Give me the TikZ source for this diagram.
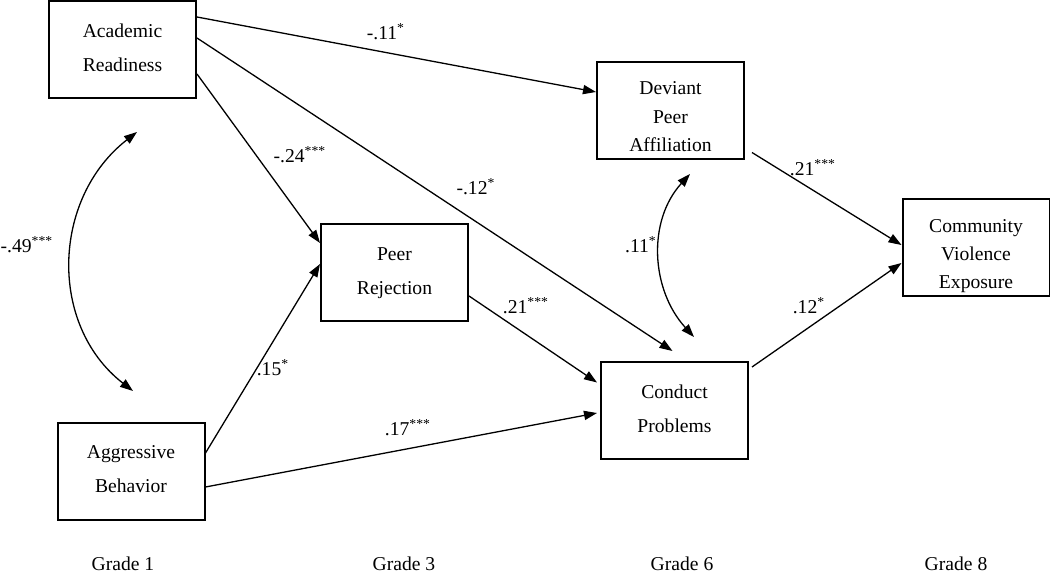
\documentclass[tikz,border=0pt]{standalone}
\usepackage{fontspec}
\setmainfont{Liberation Serif}
\usetikzlibrary{arrows.meta}

\begin{document}
\begin{tikzpicture}[x=0.5pt, y=-0.5pt,
  font=\fontsize{9.8}{12}\selectfont,
  varbox/.style={draw, line width=1pt, minimum width=73.5pt, minimum height=48.5pt, inner sep=0pt, align=center},
  twoline/.style={font=\fontsize{9.8}{17}\selectfont, text height=23.8pt, text depth=2pt},
  threeline/.style={font=\fontsize{9.8}{14.2}\selectfont, text height=41pt, text depth=0pt},
  link/.style={line width=0.65pt, -{Triangle[length=6.5pt,width=4.6pt]}},
  corr/.style={line width=0.65pt, {Triangle[length=6.5pt,width=4.6pt]}-{Triangle[length=6.5pt,width=4.6pt]}},
  coef/.style={inner sep=0pt},
  grade/.style={anchor=base, inner sep=0pt}]
\useasboundingbox (0,0) rectangle (1050,572);

% variables
\node[varbox,twoline] (ar) at (122.5,50) {Academic\\Readiness};
\node[varbox,twoline] (ab) at (131,471) {Aggressive\\Behavior};
\node[varbox,twoline] (pr) at (394.5,273) {Peer\\Rejection};
\node[varbox,threeline] (dpa) at (670.5,110.5) {Deviant\\Peer\\Affiliation};
\node[varbox,twoline] (cp) at (674.5,410.5) {Conduct\\Problems};
\node[varbox,threeline] (cve) at (976,248) {Community\\Violence\\Exposure};

% paths
\draw[link] ([yshift=16.5pt]ar.east) -- ([yshift=9.25pt]dpa.west);
\draw[link] ([yshift=6pt]ar.east) -- ([xshift=-1pt,yshift=5pt]cp.north);
\draw[link] ([yshift=-12pt]ar.east) -- ([yshift=15pt]pr.west);
\draw[link] ([yshift=9pt]ab.east) -- ([yshift=4.5pt]pr.west);
\draw[link] ([yshift=-8pt]ab.east) -- ([xshift=-1.5pt,yshift=-1.25pt]cp.west);
\draw[link] ([yshift=-11.5pt]pr.east) -- ([xshift=-1.5pt,yshift=14pt]cp.west);
\draw[link] ([xshift=3.5pt,yshift=-21pt]dpa.east) -- ([yshift=1.5pt]cve.west);
\draw[link] ([xshift=1.5pt,yshift=21.75pt]cp.east) -- ([yshift=-7.5pt]cve.west);

% correlations
\draw[corr] ([xshift=7.25pt,yshift=-16.25pt]ar.south) .. controls +(-85,66) and +(-85,-66) .. ([xshift=1pt,yshift=15.25pt]ab.north);
\draw[corr] ([xshift=9.75pt,yshift=-7pt]dpa.south) .. controls +(-43,47) and +(-43,-47) .. ([xshift=9.75pt,yshift=12pt]cp.north);

% coefficients
\node[coef] (c1) at (386,32) {-.11\textsuperscript{*}};
\node[coef] (c2) at (300,155) {-.24\textsuperscript{***}};
\node[coef] (c3) at (476,187) {-.12\textsuperscript{*}};
\node[coef] (c4) at (27,245) {-.49\textsuperscript{***}};
\node[coef] (c5) at (273,368) {.15\textsuperscript{*}};
\node[coef] (c6) at (408,428) {.17\textsuperscript{***}};
\node[coef] (c7) at (526,306) {.21\textsuperscript{***}};
\node[coef] (c8) at (641,245) {.11\textsuperscript{*}};
\node[coef] (c9) at (813,168) {.21\textsuperscript{***}};
\node[coef] (c10) at (809,306) {.12\textsuperscript{*}};

% grades
\node[grade] (g1) at (123,570) {Grade 1};
\node[grade] (g3) at (404,570) {Grade 3};
\node[grade] (g6) at (682,570) {Grade 6};
\node[grade] (g8) at (956,570) {Grade 8};
\end{tikzpicture}
\end{document}
